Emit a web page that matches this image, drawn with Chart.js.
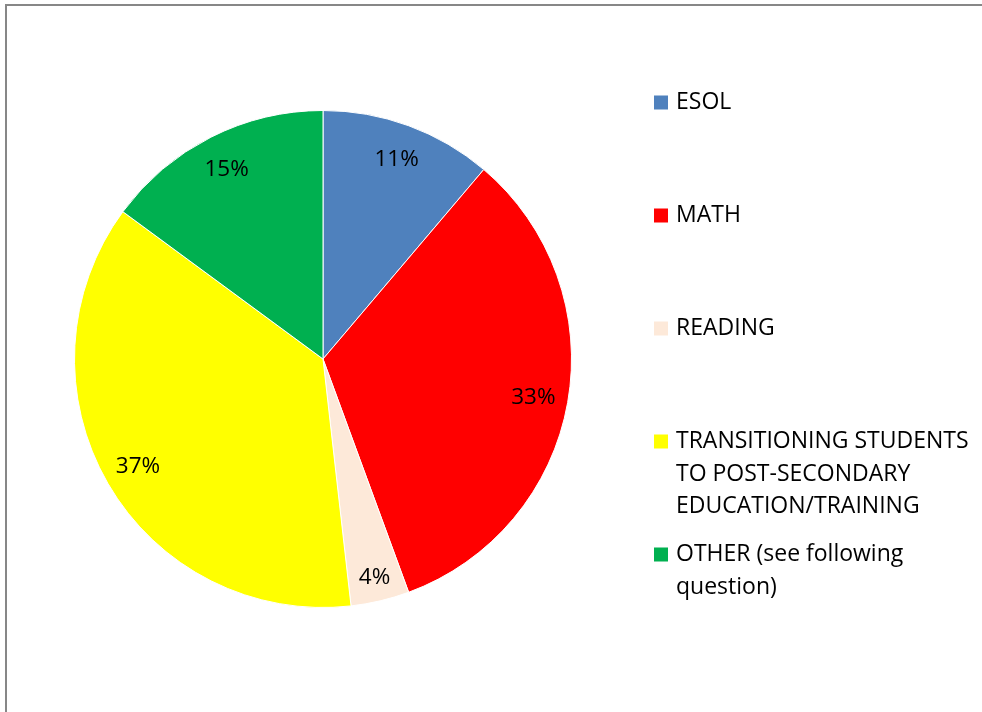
<!DOCTYPE html>
<html>
<head>
<meta charset="utf-8">
<script src="https://cdn.jsdelivr.net/npm/chart.js@4/dist/chart.umd.min.js"></script>
<style>
  html, body { margin: 0; padding: 0; background: #fff; }
  #wrap { position: relative; width: 982px; height: 712px; }
</style>
</head>
<body>
<div id="wrap"><canvas id="c"></canvas></div>
<script>
const categories = ["ESOL", "MATH", "READING", "TRANSITIONING STUDENTS TO POST-SECONDARY EDUCATION/TRAINING", "OTHER (see following question)"];
const values = [11.2, 33.2, 3.8, 36.9, 14.9];
const colors = ["#4F81BD", "#FF0000", "#FDE9D9", "#FFFF00", "#00B050"];

const FONT = '"Open Sans", "Noto Sans", sans-serif';

function wrapText(ctx, text, maxW) {
  const words = text.split(' ');
  const lines = [];
  let cur = '';
  for (const w of words) {
    const test = cur ? cur + ' ' + w : w;
    if (ctx.measureText(test).width > maxW && cur) { lines.push(cur); cur = w; }
    else cur = test;
  }
  if (cur) lines.push(cur);
  return lines;
}

const framePlugin = {
  id: 'frame',
  beforeDraw(chart) {
    const ctx = chart.ctx;
    ctx.save();
    ctx.fillStyle = '#878787';
    ctx.fillRect(5, 4, chart.width - 5, 2);
    ctx.fillRect(5, 4, 2, chart.height - 4);
    ctx.restore();
  }
};

const labelPlugin = {
  id: 'sliceLabels',
  afterDatasetsDraw(chart) {
    const ctx = chart.ctx;
    const meta = chart.getDatasetMeta(0);
    const data = chart.data.datasets[0].data;
    const total = data.reduce((a, b) => a + b, 0);
    ctx.save();
    ctx.font = '22.5px ' + FONT;
    ctx.fillStyle = '#000';
    ctx.textAlign = 'center';
    ctx.textBaseline = 'middle';
    meta.data.forEach((arc, i) => {
      const p = arc.getProps(['x', 'y', 'startAngle', 'endAngle', 'outerRadius'], true);
      const mid = (p.startAngle + p.endAngle) / 2;
      const frac = data[i] / total;
      const r = p.outerRadius * (frac < 0.05 ? 0.9 : 0.86);
      const x = p.x + Math.cos(mid) * r;
      const y = p.y + Math.sin(mid) * r + 1;
      ctx.fillText(Math.round(frac * 100) + '%', x, y);
    });
    ctx.restore();
  }
};

const legendPlugin = {
  id: 'sideLegend',
  afterDraw(chart) {
    const ctx = chart.ctx;
    ctx.save();
    ctx.font = '23px ' + FONT;
    ctx.textBaseline = 'middle';
    const startY = 102.5, step = 113, lineH = 32.5;
    const boxX = 654, textX = 676, box = 14;
    chart.data.labels.forEach((lab, i) => {
      const y0 = startY + i * step;
      ctx.fillStyle = colors[i];
      ctx.fillRect(boxX, y0 - box / 2, box, box);
      ctx.fillStyle = '#000';
      const lines = wrapText(ctx, lab, 305);
      lines.forEach((ln, j) => ctx.fillText(ln, textX, y0 + j * lineH));
    });
    ctx.restore();
  }
};

new Chart(document.getElementById('c'), {
  type: 'pie',
  data: {
    labels: categories,
    datasets: [{
      data: values,
      backgroundColor: colors,
      borderColor: '#ffffff',
      borderWidth: 1
    }]
  },
  options: {
    responsive: true,
    maintainAspectRatio: false,
    animation: false,
    devicePixelRatio: 1,
    layout: { padding: { left: 74, top: 110, right: 410, bottom: 104 } },
    plugins: { legend: { display: false }, tooltip: { enabled: false } }
  },
  plugins: [framePlugin, labelPlugin, legendPlugin]
});
</script>
</body>
</html>
